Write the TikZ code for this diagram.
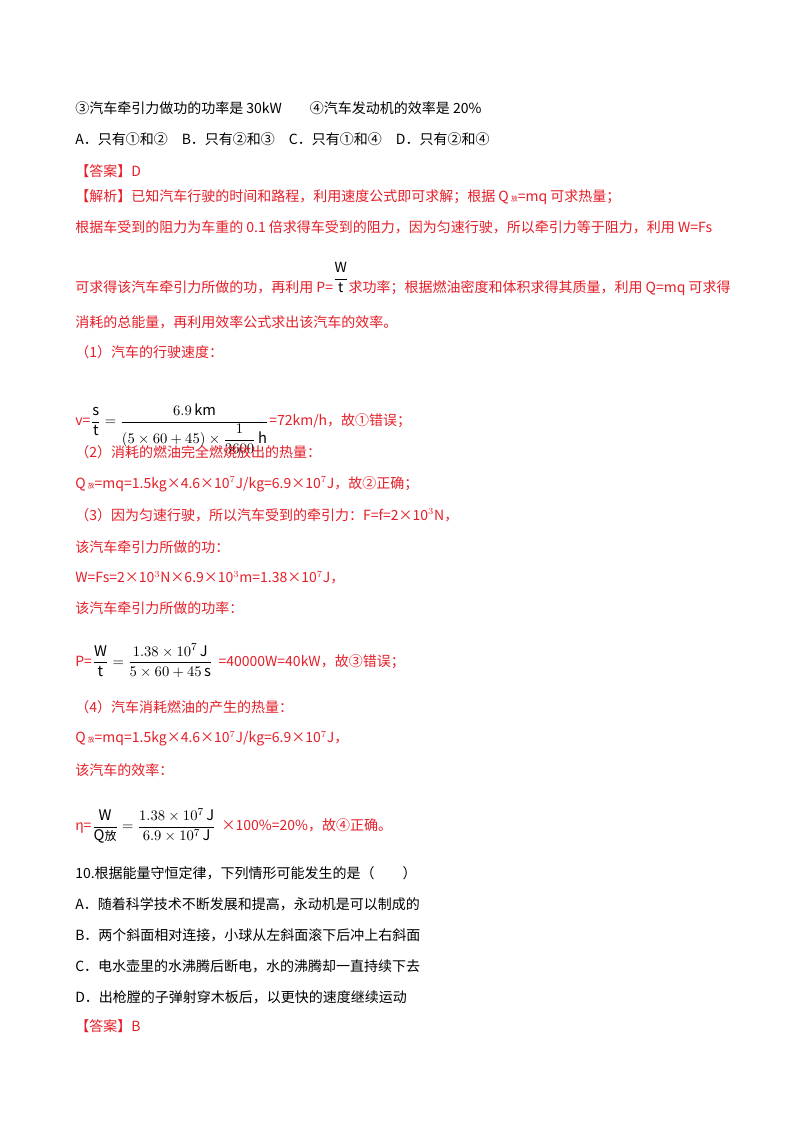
\documentclass[tikz,border=0pt]{standalone}
\usepackage{fontspec}
\usepackage{amsmath}
\setmainfont{Noto Sans CJK SC}
\definecolor{ansred}{RGB}{230,30,40}
\tikzset{
  ln/.style={anchor=west,inner sep=0pt,font=\fontsize{10.5}{12}\selectfont},
  rl/.style={ln,text=ansred},
  fm/.style={anchor=base west,inner sep=0pt,font=\fontsize{11}{13}\selectfont},
}
\begin{document}
\begin{tikzpicture}[x=0.75pt,y=-0.75pt]
\useasboundingbox[fill=white](0,0) rectangle (800,1132);
% question options
\node[ln] (q3) at (75,108) {③汽车牵引力做功的功率是 30kW\quad\quad ④汽车发动机的效率是 20\%};
\node[ln] (qa) at (75,139) {A．只有①和②\quad B．只有②和③\quad C．只有①和④\quad D．只有②和④};
\node[rl] (ans1) at (75,171) {【答案】D};
% analysis
\node[rl] (an1) at (75,197) {【解析】已知汽车行驶的时间和路程，利用速度公式即可求解；根据 Q\,{\tiny 放}=mq 可求热量；};
\node[rl] (an2) at (75,227) {根据车受到的阻力为车重的 0.1 倍求得车受到的阻力，因为匀速行驶，所以牵引力等于阻力，利用 W=Fs};
\node[rl] (an3) at (75,288) {可求得该汽车牵引力所做的功，再利用 P=\raisebox{1.3ex}[0pt][0pt]{\color{black}$\dfrac{\mathrm{W}}{\mathrm{t}}$}求功率；根据燃油密度和体积求得其质量，利用 Q=mq 可求得};
\node[rl] (an4) at (75,322) {消耗的总能量，再利用效率公式求出该汽车的效率。};
% (1)
\node[rl] (s1) at (75,352) {（1）汽车的行驶速度：};
\node[rl] (v0) at (75,422) {v=};
\node[fm] (vf) at (v0.base east) {$\dfrac{\mathrm{s}}{\mathrm{t}}=\dfrac{6.9\,\mathrm{km}}{(5\times60+45)\times\dfrac{1}{3600}\,\mathrm{h}}$};
\node[rl,anchor=base west] (v1) at (vf.base east) {=72km/h，故①错误；};
% (2)
\node[rl] (s2) at (75,452) {（2）消耗的燃油完全燃烧放出的热量：};
\node[rl] (q2) at (75,484) {Q\,{\tiny 放}=mq=1.5kg×4.6×10$^7$J/kg=6.9×10$^7$J，故②正确；};
% (3)
\node[rl] (s3) at (75,515) {（3）因为匀速行驶，所以汽车受到的牵引力：F=f=2×10$^3$N，};
\node[rl] (w0) at (75,547) {该汽车牵引力所做的功：};
\node[rl] (w1) at (75,578) {W=Fs=2×10$^3$N×6.9×10$^3$m=1.38×10$^7$J，};
\node[rl] (p0) at (75,608) {该汽车牵引力所做的功率：};
\node[rl] (p1) at (75,661) {P=};
\node[fm] (pf) at (p1.base east) {$\dfrac{\mathrm{W}}{\mathrm{t}}=\dfrac{1.38\times10^{7}\,\mathrm{J}}{5\times60+45\,\mathrm{s}}$};
\node[rl,anchor=base west] (p2) at ([xshift=4pt]pf.base east) {=40000W=40kW，故③错误；};
% (4)
\node[rl] (s4) at (75,707) {（4）汽车消耗燃油的产生的热量：};
\node[rl] (q4) at (75,739) {Q\,{\tiny 放}=mq=1.5kg×4.6×10$^7$J/kg=6.9×10$^7$J，};
\node[rl] (e0) at (75,770) {该汽车的效率：};
\node[rl] (e1) at (75,828) {η=};
\node[fm] (ef) at (e1.base east) {$\dfrac{\mathrm{W}}{\mathrm{Q}\hbox{\fontsize{9}{10}\selectfont 放}}=\dfrac{1.38\times10^{7}\,\mathrm{J}}{6.9\times10^{7}\,\mathrm{J}}$};
\node[rl,anchor=base west] (e2) at ([xshift=4pt]ef.base east) {×100\%=20\%，故④正确。};
% question 10
\node[ln] (q10) at (75,873) {10.根据能量守恒定律，下列情形可能发生的是（\qquad ）};
\node[ln] (oA) at (75,904) {A．随着科学技术不断发展和提高，永动机是可以制成的};
\node[ln] (oB) at (75,935) {B．两个斜面相对连接，小球从左斜面滚下后冲上右斜面};
\node[ln] (oC) at (75,966) {C．电水壶里的水沸腾后断电，水的沸腾却一直持续下去};
\node[ln] (oD) at (75,997) {D．出枪膛的子弹射穿木板后，以更快的速度继续运动};
\node[rl] (ans2) at (75,1026) {【答案】B};
\end{tikzpicture}
\end{document}
